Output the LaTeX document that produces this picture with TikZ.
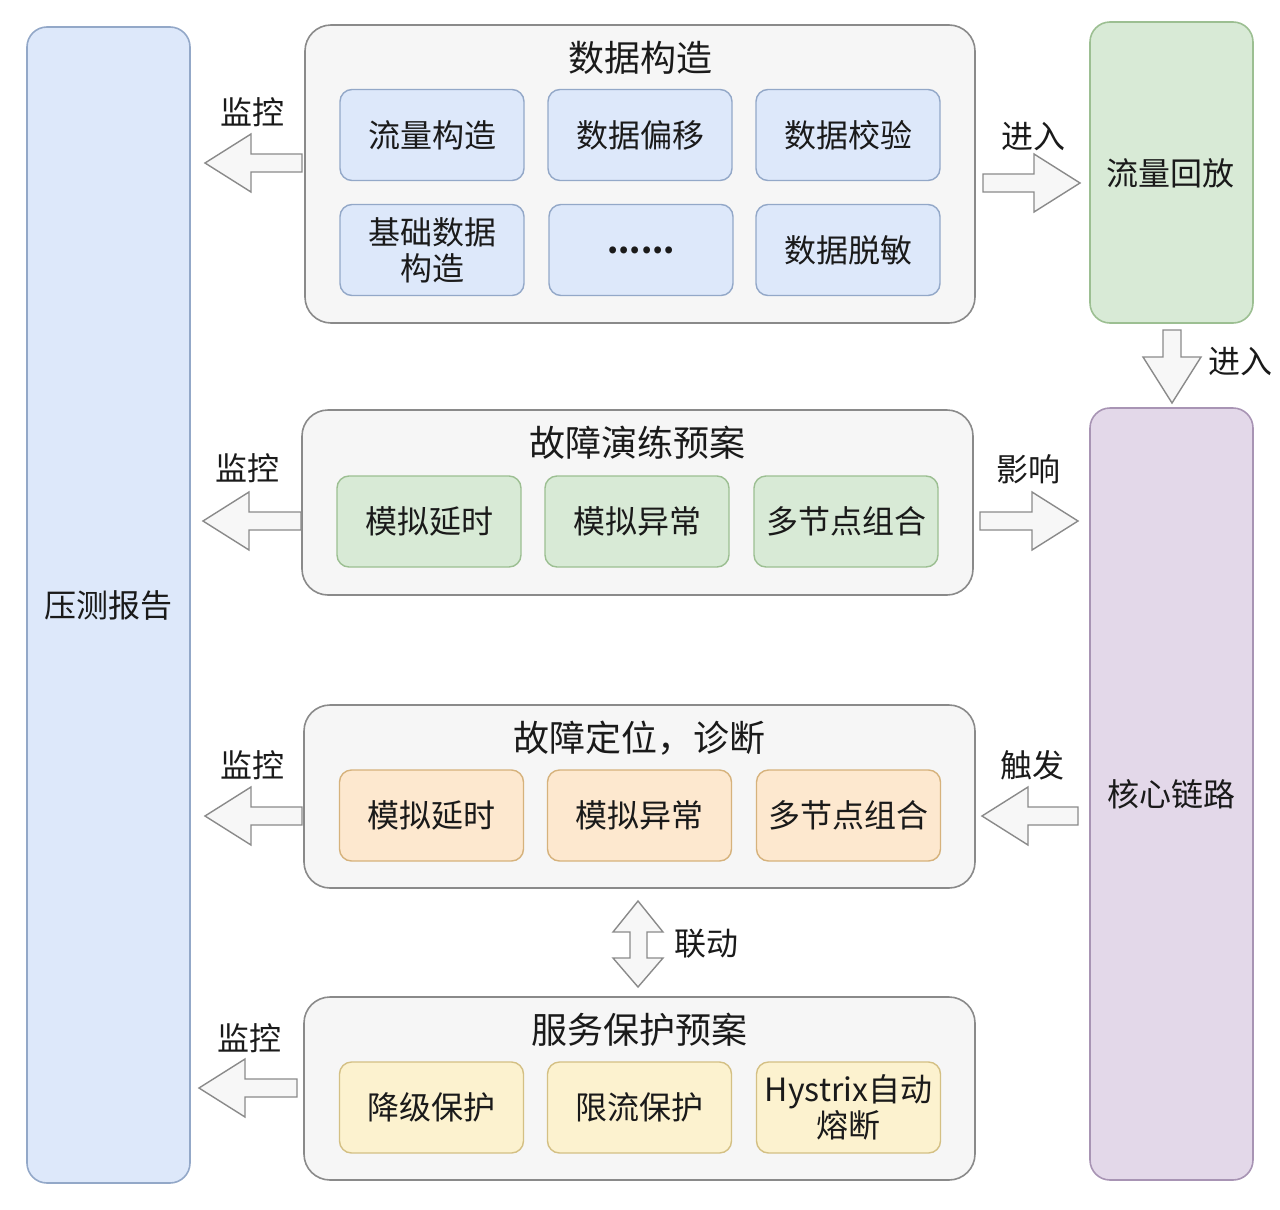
\documentclass[tikz,border=0pt]{standalone}
\usepackage{fontspec}
\setmainfont{Noto Sans CJK SC}
\definecolor{txt}{HTML}{1A1A1A}
\definecolor{grayF}{HTML}{F6F6F6}
\definecolor{grayS}{HTML}{8A8A8A}
\definecolor{blueF}{HTML}{DDE8FA}
\definecolor{blueS}{HTML}{93A8C8}
\definecolor{greenF}{HTML}{D8EAD6}
\definecolor{greenS}{HTML}{9CBF92}
\definecolor{orangeF}{HTML}{FDE8CF}
\definecolor{orangeS}{HTML}{D6B27C}
\definecolor{yellowF}{HTML}{FCF2CF}
\definecolor{yellowS}{HTML}{D4C084}
\definecolor{purpleF}{HTML}{E3D8E9}
\definecolor{purpleS}{HTML}{A894B4}
\definecolor{arrF}{HTML}{F7F7F7}
\definecolor{arrS}{HTML}{8A8A8A}
\begin{document}
\begin{tikzpicture}[x=1pt,y=-1pt,
  every node/.style={text=txt, font=\fontsize{32}{36}\selectfont},
  outer/.style={draw=grayS, fill=grayF, line width=1.6pt, rounded corners=26pt, minimum width=670pt, inner sep=0pt},
  inbox/.style={line width=1.4pt, rounded corners=12pt, minimum width=184pt, minimum height=91pt, align=center, inner sep=0pt},
  bluebox/.style={inbox, draw=blueS, fill=blueF},
  greenbox/.style={inbox, draw=greenS, fill=greenF},
  orangebox/.style={inbox, draw=orangeS, fill=orangeF},
  yellowbox/.style={inbox, draw=yellowS, fill=yellowF},
  sidebox/.style={line width=1.6pt, rounded corners=20pt, minimum width=163pt, inner sep=0pt},
  title/.style={font=\fontsize{36}{40}\selectfont},
  lbl/.style={},
  blockarr/.style={draw=arrS, fill=arrF, line width=1.4pt, line join=miter},
  pics/barrow/.style={code={\draw[blockarr] (0,0) -- (-46,29) -- (-46,9) -- (-#1,9) -- (-#1,-9) -- (-46,-9) -- (-46,-29) -- cycle;}}
]
\useasboundingbox (0,0) rectangle (1280,1210);

% left report box
\node[sidebox, draw=blueS, fill=blueF, minimum height=1156pt] (report) at (108.5,605) {压测报告};

% right boxes
\node[sidebox, draw=greenS, fill=greenF, minimum height=301pt] (replay) at (1171.5,172.5) {};
\node at (1170,173) (replaytxt) {流量回放};
\node[sidebox, draw=purpleS, fill=purpleF, minimum height=772pt] (core) at (1171.5,794) {核心链路};

% group 1
\node[outer, minimum height=298pt] (g1) at (640,174) {};
\node[title] (g1t) at (640,58) {数据构造};
\node[bluebox] (a1) at (432,135) {流量构造};
\node[bluebox] (a2) at (640,135) {数据偏移};
\node[bluebox] (a3) at (848,135) {数据校验};
\node[bluebox] (a4) at (432,250) {基础数据\\构造};
\node[bluebox] (a5) at (641,250) {\textbf{......}};
\node[bluebox] (a6) at (848,250) {数据脱敏};

% group 2
\node[outer, minimum width=671pt, minimum height=185pt] (g2) at (637.5,502.5) {};
\node[title] (g2t) at (637,443) {故障演练预案};
\node[greenbox] (b1) at (429,521.5) {模拟延时};
\node[greenbox] (b2) at (637,521.5) {模拟异常};
\node[greenbox] (b3) at (846,521.5) {多节点组合};

% group 3
\node[outer, minimum width=671pt, minimum height=183pt] (g3) at (639.5,796.5) {};
\node[title] (g3t) at (639,738) {故障定位，诊断};
\node[orangebox] (c1) at (431.5,815.5) {模拟延时};
\node[orangebox] (c2) at (639.5,815.5) {模拟异常};
\node[orangebox] (c3) at (848.5,815.5) {多节点组合};

% group 4
\node[outer, minimum width=671pt, minimum height=183pt] (g4) at (639.5,1088.5) {};
\node[title] (g4t) at (639,1030) {服务保护预案};
\node[yellowbox] (d1) at (431.5,1107.5) {降级保护};
\node[yellowbox] (d2) at (639.5,1107.5) {限流保护};
\node[yellowbox] (d3) at (848.5,1107.5) {Hystrix自动\\熔断};

% monitor arrows
\pic[rotate=180] at (205,163) {barrow=97};
\node[lbl] (m1) at (252,112) {监控};
\pic[rotate=180] at (203,521) {barrow=98};
\node[lbl] (m2) at (247,468) {监控};
\pic[rotate=180] at (205,816) {barrow=97};
\node[lbl] (m3) at (252,765) {监控};
\pic[rotate=180] at (199,1088) {barrow=98};
\node[lbl] (m4) at (249,1038) {监控};

% right side arrows
\pic at (1080,183) {barrow=97};
\node[lbl] (e1) at (1033,137) {进入};
\pic at (1078,521) {barrow=98};
\node[lbl] (e2) at (1028,469) {影响};
\pic[rotate=180] at (982,816) {barrow=96};
\node[lbl] (e3) at (1032,765) {触发};
\pic[rotate=-90] at (1172,403) {barrow=73};
\node[lbl] (e4) at (1240,362) {进入};

% linkage double arrow
\draw[blockarr] (638,901) -- (663,932) -- (647,932) -- (647,958) -- (663,958) -- (638,987) -- (613,958) -- (630,958) -- (630,932) -- (613,932) -- cycle;
\node[lbl] (ld) at (706,944) {联动};
\end{tikzpicture}
\end{document}
